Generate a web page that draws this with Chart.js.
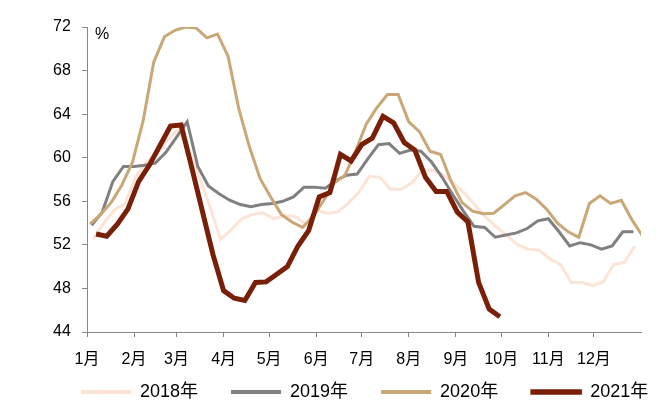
<!DOCTYPE html>
<html>
<head>
<meta charset="utf-8">
<script src="https://cdn.jsdelivr.net/npm/chart.js@4/dist/chart.umd.min.js"></script>
<style>
  html, body { margin: 0; padding: 0; background: #fff; }
  #wrap { width: 665px; height: 411px; }
</style>
</head>
<body>
<div id="wrap"><canvas id="chart"></canvas></div>
<script>
// month axis: labels and the day-of-year each month starts on
const months = ["1月", "2月", "3月", "4月", "5月", "6月", "7月", "8月", "9月", "10月", "11月", "12月"];
const monthStarts = [1, 32, 60, 91, 121, 152, 182, 213, 244, 274, 305, 335];

const years = ["2018年", "2019年", "2020年", "2021年"];
// day-of-year of the first weekly reading (Fridays)
const firstDay = [5, 4, 3, 7];

const rate2018 = [52.5, 54.0, 55.2, 55.8, 58.2, 59.6, 60.4, 61.6, 62.6, 60.7,
  58.2, 55.5, 52.5, 53.4, 54.4, 54.8, 54.95, 54.4, 54.7, 54.6,
  53.9, 55.2, 54.9, 55.0, 55.8, 56.8, 58.3, 58.2, 57.1, 57.1,
  57.7, 58.85, 58.85, 58.4, 57.6, 56.7, 55.6, 54.5, 53.6, 52.8,
  52.0, 51.6, 51.5, 50.7, 50.2, 48.55, 48.55, 48.25, 48.6, 50.2,
  50.4, 51.9];
const rate2019 = [53.8, 55.0, 57.8, 59.2, 59.2, 59.3, 59.5, 60.5, 61.9, 63.3,
  59.2, 57.4, 56.7, 56.1, 55.7, 55.5, 55.7, 55.8, 56.0, 56.4,
  57.3, 57.3, 57.2, 57.9, 58.4, 58.5, 59.9, 61.2, 61.3, 60.4,
  60.7, 60.6, 59.6, 58.2, 56.6, 55.1, 53.7, 53.6, 52.7, 52.9,
  53.1, 53.5, 54.2, 54.4, 53.2, 51.9, 52.2, 52.0, 51.6, 51.9,
  53.2, 53.2];
const rate2020 = [53.9, 54.8, 55.9, 57.5, 59.6, 63.4, 68.8, 71.1, 71.7, 72.0,
  71.9, 71.0, 71.35, 69.3, 64.5, 61.0, 58.1, 56.4, 54.8, 54.1,
  53.6, 54.6, 56.1, 57.7, 58.4, 60.6, 63.1, 64.6, 65.8, 65.8,
  63.3, 62.4, 60.6, 60.3, 57.8, 55.9, 55.1, 54.85, 54.9, 55.7,
  56.5, 56.8, 56.2, 55.25, 54.0, 53.2, 52.7, 55.8, 56.5, 55.8,
  56.1, 54.3, 52.8];
const rate2021 = [53.0, 52.8, 53.9, 55.3, 57.8, 59.3, 61.1, 62.9, 63.0, 59.1,
  55.1, 51.1, 47.8, 47.1, 46.9, 48.55, 48.6, 49.3, 50.0, 51.9,
  53.3, 56.4, 56.8, 60.3, 59.7, 61.2, 61.8, 63.8, 63.2, 61.4,
  60.7, 58.2, 56.9, 56.9, 55.0, 54.1, 48.55, 46.1, 45.4];

const colors = ["#FCE4D6", "#808080", "#C9A777", "#7A1F07"];
const widths = [3, 3, 3, 5];
const legendStroke = [0, 0, 0, 1.5];

function weekly(start, values) {
  return values.map((v, i) => ({ x: start + 7 * i, y: v }));
}

const series = [rate2018, rate2019, rate2020, rate2021];
const datasets = series.map((values, i) => ({
  label: years[i],
  data: weekly(firstDay[i], values),
  borderColor: colors[i],
  backgroundColor: colors[i],
  borderWidth: widths[i],
  pointRadius: 0,
  tension: 0,
  order: 3 - i,
}));

const FONT = "'Liberation Sans', Arial, 'Noto Sans CJK SC', sans-serif";
const axisGray = "#888888";

const percentLabel = {
  id: "percentLabel",
  afterDraw(chart) {
    const { ctx, chartArea } = chart;
    ctx.save();
    ctx.font = "16px " + FONT;
    ctx.fillStyle = "#000";
    ctx.textAlign = "left";
    ctx.textBaseline = "middle";
    ctx.fillText("%", chartArea.left + 8, chartArea.top + 8);
    ctx.restore();
  },
};

new Chart(document.getElementById("chart"), {
  type: "line",
  data: { datasets: datasets },
  options: {
    responsive: true,
    maintainAspectRatio: false,
    animation: false,
    layout: { padding: { top: 27, left: 73, right: 0, bottom: 0 } },
    plugins: {
      tooltip: { enabled: false },
      legend: {
        position: "bottom",
        align: "start",
        labels: {
          font: { family: FONT, size: 18 },
          color: "#000",
          padding: 8,
          boxWidth: 50,
          boxHeight: 4,
          generateLabels(chart) {
            // trailing spaces widen the gap between legend entries
            return chart.data.datasets.map((ds, i) => ({
              text: i < 3 ? ds.label + "     " : ds.label,
              datasetIndex: i,
              fillStyle: colors[i],
              strokeStyle: colors[i],
              lineWidth: legendStroke[i],
              fontColor: "#000",
            }));
          },
        },
      },
    },
    scales: {
      x: {
        type: "linear",
        min: 1,
        max: 366,
        afterBuildTicks(axis) {
          axis.ticks = monthStarts.map((v) => ({ value: v }));
        },
        afterFit(axis) {
          axis.height = 43;
        },
        ticks: {
          autoSkip: false,
          maxRotation: 0,
          padding: 13,
          color: "#000",
          font: { family: FONT, size: 16 },
          callback: (value) => months[monthStarts.indexOf(value)],
        },
        grid: { drawOnChartArea: false, tickLength: 5, color: axisGray },
        border: { color: axisGray, width: 1 },
      },
      y: {
        min: 44,
        max: 72,
        afterFit(axis) {
          axis.width = 14;
        },
        ticks: {
          stepSize: 4,
          // mirrored labels are not clipped to the narrow axis box;
          // the negative padding puts them back left of the axis line
          mirror: true,
          padding: -34,
          color: "#000",
          font: { family: FONT, size: 16 },
        },
        grid: { drawOnChartArea: false, tickLength: 5, color: axisGray },
        border: { color: axisGray, width: 1 },
      },
      // empty right-hand strip so the plot ends before the canvas edge
      spacer: {
        type: "linear",
        position: "right",
        grid: { display: false },
        border: { display: false },
        ticks: { display: false },
        afterFit(axis) {
          axis.width = 24;
        },
      },
    },
  },
  plugins: [percentLabel],
});
</script>
</body>
</html>
